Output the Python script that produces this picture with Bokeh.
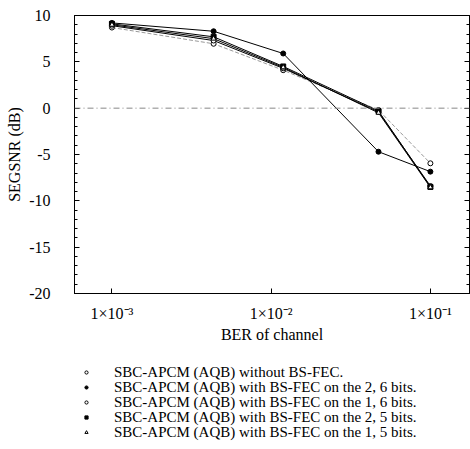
from bokeh.plotting import figure
from bokeh.layouts import column
from bokeh.models import FixedTicker, Span, LinearAxis, Legend, LegendItem, Range1d
from bokeh.embed import file_html
from bokeh.resources import INLINE

# ---- data ----
ber = [1e-3, 4.35e-3, 1.19e-2, 4.72e-2, 1e-1]
without_fec = [8.7, 6.95, 4.1, -0.2, -5.95]
fec_2_6 = [9.2, 8.3, 5.9, -4.7, -6.85]
fec_1_6 = [8.9, 7.3, 4.3, -0.4, -8.4]
fec_2_5 = [9.1, 7.7, 4.5, -0.3, -8.5]
fec_1_5 = [9.0, 7.5, 4.4, -0.5, -8.55]

series_labels = [
    "SBC-APCM (AQB) without BS-FEC.",
    "SBC-APCM (AQB) with BS-FEC on the 2, 6 bits.",
    "SBC-APCM (AQB) with BS-FEC on the 1, 6 bits.",
    "SBC-APCM (AQB) with BS-FEC on the 2, 5 bits.",
    "SBC-APCM (AQB) with BS-FEC on the 1, 5 bits.",
]
x_ticks = [1e-3, 1e-2, 1e-1]
x_tick_labels = ["1×10⁻³", "1×10⁻²", "1×10⁻¹"]
y_ticks = [-20, -15, -10, -5, 0, 5, 10]
y_tick_labels = ["-20", "-15", "-10", "-5", "0", "5", "10"]
y_minor = list(range(-20, 11))

FONT = "Liberation Serif"

series = [without_fec, fec_2_6, fec_1_6, fec_2_5, fec_1_5]
line_colors = ["#999999", "black", "black", "black", "black"]
line_dashes = ["4 2", "solid", "solid", "solid", "solid"]
markers = ["circle", "circle", "circle", "square", "triangle"]
fills = ["white", "black", "white", "black", "white"]

# ---------------- main chart ----------------
p = figure(width=470, height=355, x_axis_type="log",
           x_range=Range1d(5.82e-4, 0.176), y_range=Range1d(-20, 10),
           output_backend="svg", toolbar_location=None,
           min_border_left=74, min_border_right=1, min_border_top=15,
           min_border_bottom=62)
p.grid.visible = False
p.outline_line_color = "black"
p.outline_line_width = 1
p.background_fill_color = "white"
p.border_fill_color = "white"

xa = p.xaxis[0]
xa.ticker = FixedTicker(ticks=x_ticks)
xa.major_label_overrides = {t: l for t, l in zip(x_ticks, x_tick_labels)}
xa.axis_label = "BER of channel"
ya = p.yaxis[0]
ya.ticker = FixedTicker(ticks=y_ticks, minor_ticks=y_minor)
ya.major_label_overrides = {t: l for t, l in zip(y_ticks, y_tick_labels)}
ya.axis_label = "SEGSNR (dB)"

for ax in (xa, ya):
    ax.axis_line_color = "black"
    ax.major_tick_in = 5
    ax.major_tick_out = 0
    ax.minor_tick_in = 3
    ax.minor_tick_out = 0
    ax.major_label_text_font = FONT
    ax.major_label_text_font_size = "16px"
    ax.major_label_text_color = "black"
    ax.axis_label_text_font = FONT
    ax.axis_label_text_font_size = "16px"
    ax.axis_label_text_font_style = "normal"
    ax.axis_label_text_color = "black"
xa.minor_tick_line_color = None
xa.major_label_standoff = 11
xa.axis_label_standoff = 1
ya.major_label_standoff = 24
ya.axis_label_standoff = 3

ra = LinearAxis(ticker=FixedTicker(ticks=y_ticks, minor_ticks=y_minor),
                major_label_standoff=0,
                major_tick_in=5, major_tick_out=0, minor_tick_in=3, minor_tick_out=0,
                axis_line_color="black")
ra.major_label_overrides = {t: "" for t in y_ticks}
p.add_layout(ra, "right")

p.add_layout(Span(location=0, dimension="width", line_color="#888888",
                  line_width=1, line_dash="6 3 1 3"))

for ys, lc, ld, mk, fc in zip(series, line_colors, line_dashes, markers, fills):
    p.line(ber, ys, line_color=lc, line_width=1, line_dash=ld)
    p.scatter(ber, ys, marker=mk, size=5, line_color="black", line_width=1, fill_color=fc)

# ---------------- legend strip below ----------------
p2 = figure(width=470, height=94, x_axis_type="log",
            x_range=Range1d(1.0, 2.0), y_range=Range1d(100, 200),
            output_backend="svg", toolbar_location=None,
            x_axis_location=None, y_axis_location=None,
            min_border_left=0, min_border_right=0, min_border_top=0, min_border_bottom=0)
p2.grid.visible = False
p2.outline_line_color = None
p2.background_fill_color = "white"
p2.border_fill_color = "white"

row_bottoms = [68, 53, 38, 23, 8]   # one legend row per series, 15 px apart
for ys, mk, fc, lab, yb in zip(series, markers, fills, series_labels, row_bottoms):
    r = p2.scatter(ber, ys, marker=mk, size=4, line_color="black", line_width=1, fill_color=fc)
    lg = Legend(items=[LegendItem(label=lab, renderers=[r])], location=(8, yb),
                orientation="vertical",
                label_text_font=FONT, label_text_font_size="15px",
                label_text_color="black", glyph_width=8, glyph_height=18,
                label_height=18, spacing=0, padding=0, margin=0,
                label_standoff=24, border_line_color=None,
                background_fill_alpha=0)
    p2.add_layout(lg, "center")

layout = column(p, p2, spacing=0)
open("out.html", "w").write(file_html(layout, INLINE))
